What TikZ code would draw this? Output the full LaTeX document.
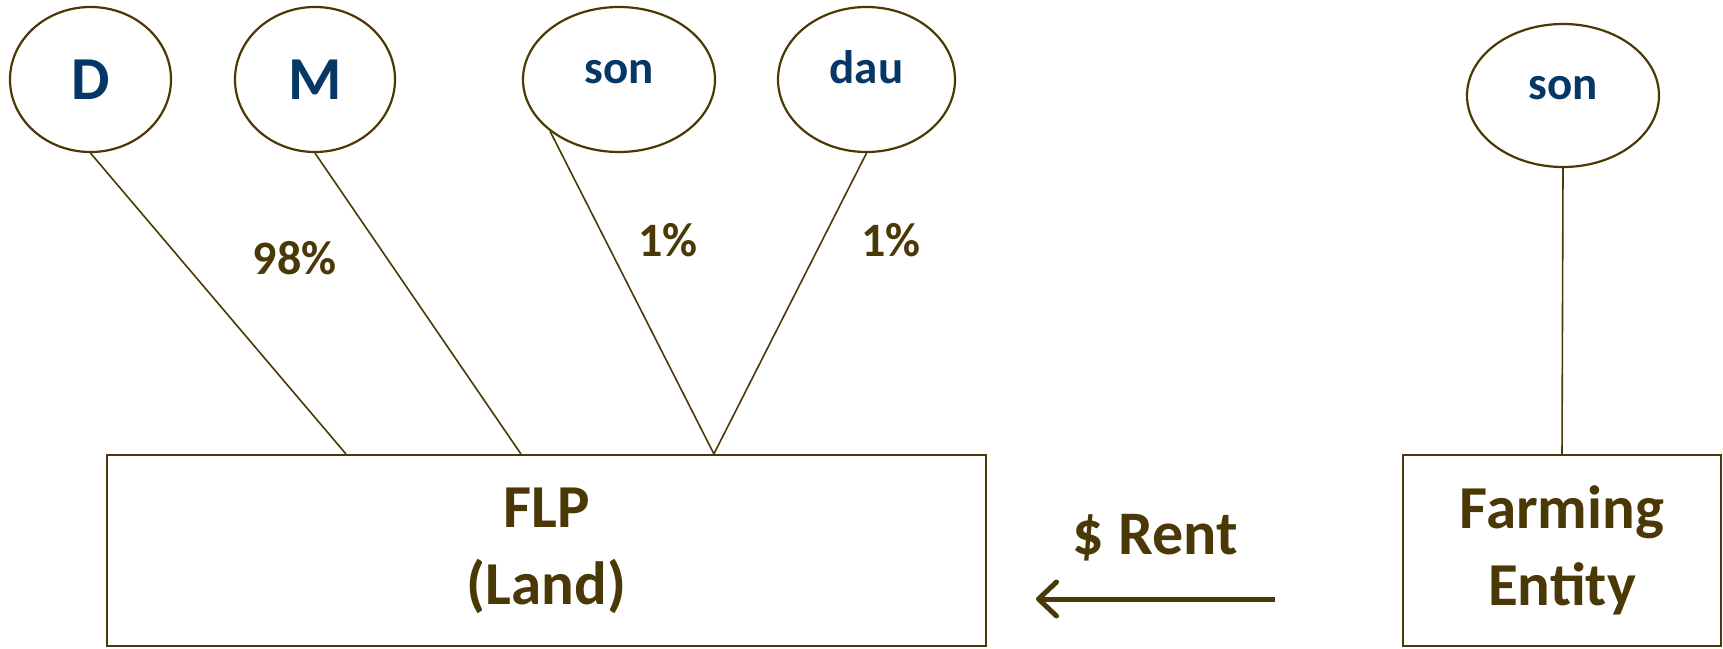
\documentclass[tikz,border=0pt]{standalone}
\usepackage{fontspec}
\setmainfont{Carlito}
\usetikzlibrary{shapes.geometric,arrows.meta,calc}

\definecolor{earth}{RGB}{74,56,6}
\definecolor{navy}{RGB}{5,56,102}

\tikzset{
  oval/.style={ellipse, draw=earth, line width=1.1pt, inner sep=0pt, text=navy},
  parent/.style={oval, font=\bfseries\fontsize{30.5}{36}\selectfont},
  child/.style={oval, font=\bfseries\fontsize{23.5}{28}\selectfont,
                text height=8pt, text depth=4pt},
  entity/.style={rectangle, draw=earth, line width=1.1pt, inner sep=0pt,
                 text=earth, align=center,
                 font=\bfseries\fontsize{30.5}{38.5}\selectfont},
  share/.style={text=earth, inner sep=0pt, font=\bfseries\fontsize{24}{28}\selectfont},
  rentlabel/.style={text=earth, inner sep=0pt, font=\bfseries\fontsize{31}{37}\selectfont},
  link/.style={draw=earth, line width=0.8pt},
  rentflow/.style={draw=earth, line width=2.5pt,
                   -{Straight Barb[length=9pt,width=17pt,round]}}
}

\begin{document}
\begin{tikzpicture}[x=0.5pt, y=-0.5pt]
  \useasboundingbox (0,0) rectangle (1723,648);

  % owners
  \node[parent, minimum width=80.5pt, minimum height=72.5pt] (dad) at (90.5,79.5) {D};
  \node[parent, minimum width=80pt,   minimum height=72.5pt] (mom) at (315,79.5) {M};
  \node[child,  minimum width=96pt,   minimum height=72.5pt] (son) at (619,79.5) {son};
  \node[child,  minimum width=88.5pt, minimum height=72.5pt] (dau) at (866.5,79.5) {dau};
  \node[child,  minimum width=96pt,   minimum height=71.5pt] (farmer) at (1563,95.5) {son};

  % entities
  \node[entity, minimum width=439.5pt, minimum height=95.5pt] (flp) at (546.5,550.5) {FLP\\(Land)};
  \node[entity, minimum width=159pt,   minimum height=95.5pt] (farm) at (1562,550.5) {Farming\\Entity};

  % attachment points on the partnership box
  \coordinate (dTop) at ($(flp.north west)+(240,0)$);
  \coordinate (mTop) at ($(flp.north west)+(415,0)$);
  \coordinate (kTop) at ($(flp.north west)+(608,0)$);

  % ownership lines
  \draw[link] (dad.south) -- (dTop);
  \draw[link] (mom.south) -- (mTop);
  \draw[link] (son.217) -- (kTop);
  \draw[link] (dau.south) -- (kTop);
  \draw[link] (farmer.south) -- (farm.north);

  % ownership shares
  \node[share] (pctParents) at (294.5,258) {98\%};
  \node[share] (pctSon) at (668,240) {1\%};
  \node[share] (pctDau) at (891,240) {1\%};

  % rent payment
  \coordinate (rentFrom) at (1275,599);
  \coordinate (rentTo) at (1036,599);
  \draw[rentflow] (rentFrom) -- (rentTo);
  \node[rentlabel] (rentText) at (1155,538) {\$ Rent};
\end{tikzpicture}
\end{document}
